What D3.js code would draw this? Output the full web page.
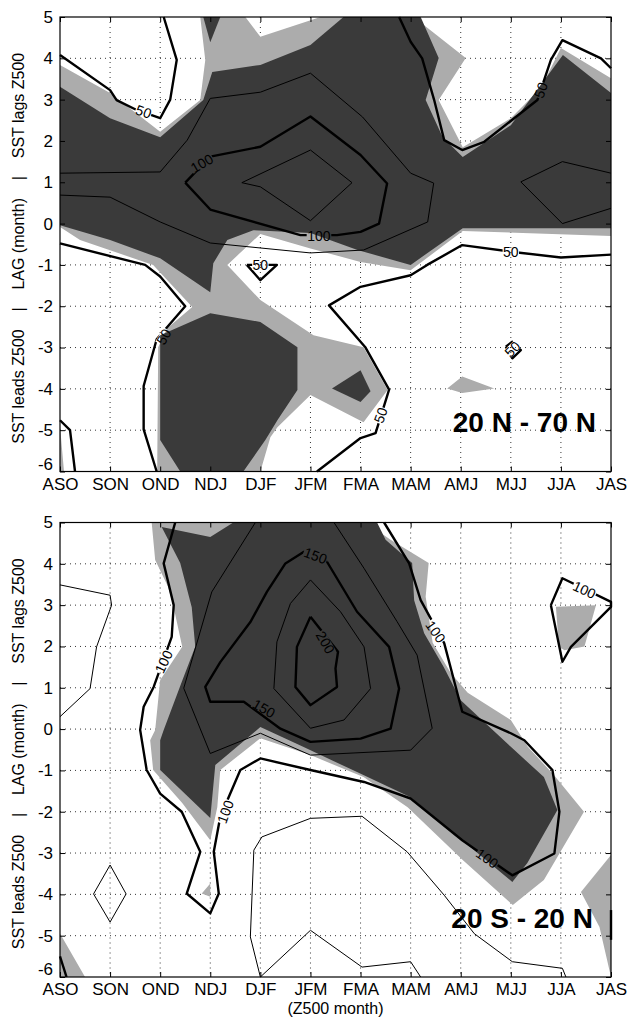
<!DOCTYPE html>
<html>
<head>
<meta charset="utf-8">
<script src="https://cdn.jsdelivr.net/npm/d3@7"></script>
<style>
  body { margin: 0; background: #fff; }
  svg { display: block; font-family: "Liberation Sans", Arial, sans-serif; }
</style>
</head>
<body>
<svg id="chart" width="631" height="1017"></svg>
<script>
// categories / ticks
const months = ["ASO", "SON", "OND", "NDJ", "DJF", "JFM", "FMA", "MAM", "AMJ", "MJJ", "JJA", "JAS"];
const lagTicks = [-6, -5, -4, -3, -2, -1, 0, 1, 2, 3, 4, 5];

// ---- 20N-70N : regions are [monthIndex, lag] vertices ----
const nhLight = [
  [[0,5],[11,5],[11,-0.3],[8.04,-0.18],[7,-1.13],[6,-0.93],[5,-0.6],[4,-0.25],[3.34,-1.0],[4,-1.85],
   [5.06,-2.7],[6.06,-2.99],[6.54,-4.03],[6.06,-4.81],[5,-4.15],[4.34,-4.93],[4.2,-5.17],[4,-6],
   [1.94,-6],[1.96,-2.99],[2.14,-2.53],[2.64,-2.02],[1.86,-1.0],[0.4,-0.4],[0,-0.08]],
  [[7.73,-3.99],[8.03,-3.7],[8.67,-3.99],[8.03,-4.1]],
  [[0,-4.9],[0.08,-6],[0,-6]]
];
const nhWhite = [
  [[0,5],[0,3.84],[1,3.16],[2,2.22],[2.8,2.99],[2.9,3.96],[2.8,5]],
  [[3.7,5],[4,4.52],[5.2,5]],
  [[7.06,5],[8.1,4.01],[7.56,2.99],[8.04,1.85],[9,2.55],[9.6,3.28],[10,4.25],[11,3.52],[11,5]]
];
const nhDark = [
  [[0,3.31],[1,2.55],[2,2.09],[2.86,2.99],[3.04,3.67],[4,3.84],[5,4.32],[5.66,5],[7.2,5],[7.56,4.01],
   [7.3,2.99],[7.64,2.09],[8.04,1.61],[9,2.38],[10.04,4.08],[11,3.16],[11,-0.11],[8.04,-0.11],[7,-1.0],
   [5.94,-0.64],[5,-0.23],[3.86,-0.16],[3.34,-0.4],[3.06,-0.96],[3,-1.66],[2,-0.84],[1,-0.4],[0,-0.04]],
  [[2.86,5],[3,4.39],[3.2,5]],
  [[2,-2.7],[3,-2.17],[4,-2.38],[4.74,-2.99],[4.74,-4.03],[4.34,-4.76],[4.1,-5.24],[3.66,-6],[2.4,-6],[2,-5.24]],
  [[5.43,-3.99],[6,-3.55],[6.2,-4.06],[6,-4.32]]
];
const nhThick = [
  [[0,4.08],[1,3.23],[1.13,2.99],[1.53,2.75],[2,2.55],[2.2,3.0],[2.33,3.96],[2.07,5]],
  [[6.77,5],[7,4.4],[7.23,4.0],[7.47,2.99],[7.67,2.02],[8.03,1.78],[8.47,1.98],[9.53,2.99],[9.8,3.96],[10.03,4.44],[10.8,4.0],[11,3.76]],
  [[0,-0.48],[1.7,-1.0],[2,-1.28],[2.5,-2.0],[1.93,-2.8],[1.67,-3.93],[1.67,-4.98],[1.93,-6]],
  [[3.73,-1.0],[4.33,-1.0],[4.0,-1.37],[3.73,-1.0]],
  [[5.13,-6],[6,-5.19],[6.3,-5.07],[6.57,-4.02],[6.1,-3.0],[5.37,-1.98],[6,-1.53],[7,-1.25],[7.33,-1.0],[8.03,-0.52],[9,-0.68],[10,-0.82],[11,-0.75]],
  [[8.9,-2.98],[9.03,-2.86],[9.2,-3.06],[9.03,-3.26],[8.9,-2.98]],
  [[0,-4.76],[0.2,-5.0],[0.3,-6]],
  [[2.5,0.99],[3,1.62],[4,1.86],[5,2.59],[6,1.66],[6.53,0.97],[6.37,0.0],[6,-0.2],[5.53,-0.28],[4.8,-0.28],[3,0.34],[2.5,0.99]]
];
const nhThin = [
  [[0,1.22],[2,1.25],[2.54,2.02],[3,3.03],[4,3.18],[5,3.64],[6.04,2.58],[7,1.22],[7.46,0.98],[7.34,0.04],[6.06,-0.64],[5,-0.71],[3,-0.47],[2,0.04],[1,0.64],[0,0.69]],
  [[3.63,0.99],[5,1.78],[5.83,0.99],[5,0.07],[4,0.89],[3.63,0.99]],
  [[11,1.22],[10.03,1.5],[9.2,1.01],[10.03,0.0],[11,0.37]]
];
const nhLabels = [
  {t: "50", x: 1.67, y: 2.71, a: 20}, {t: "50", x: 9.6, y: 3.23, a: -70},
  {t: "100", x: 2.83, y: 1.46, a: -30}, {t: "100", x: 5.17, y: -0.3, a: 0},
  {t: "50", x: 2.07, y: -2.74, a: -60}, {t: "50", x: 4.0, y: -1.0, a: 0},
  {t: "50", x: 9.0, y: -0.68, a: 0}, {t: "50", x: 6.4, y: -4.64, a: -70},
  {t: "50", x: 9.03, y: -3.04, a: -45}
];

// ---- 20S-20N ----
const trLight = [
  [[1.83,5],[6.1,5],[6.6,4.58],[7.36,4.02],[7.3,3.2],[7.44,2.09],[7.8,1.36],[8.14,0.88],[9,0.22],[9.34,-0.43],
   [9.86,-1.11],[10.46,-2.0],[9.66,-3.65],[9.04,-4.26],[8.04,-3.17],[6.94,-1.89],[6.06,-1.16],[5,-0.63],
   [4,-0.22],[3.2,-0.99],[3.14,-1.89],[3,-2.69],[2.44,-1.79],[1.86,-0.99],[1.8,-0.27],[1.9,-0.02],[2,1.19],
   [2.44,1.99],[2.26,3.0],[2.16,3.44],[1.9,4.09]],
  [[2.83,-3.98],[3,-3.74],[3,-4.06]],
  [[9.9,2.96],[10.7,3.0],[10.47,2.0],[10.07,1.91],[9.96,2.0]],
  [[11,-3.05],[10.4,-3.94],[10.77,-4.79],[11,-6]],
  [[0,-4.95],[0.5,-6],[0,-6]]
];
const trWhite = [];
const trDark = [
  [[2.03,4.89],[3,4.65],[3.46,5],[6.33,5],[6.5,4.58],[7.03,4.02],[7.07,3.12],[7.27,2.32],[7.66,1.5],[8,0.7],
   [9,-0.43],[9.66,-1.16],[9.93,-1.96],[9.33,-3.24],[9.03,-3.7],[8.03,-2.69],[7,-1.65],[5.93,-1.04],[4.8,-0.4],
   [4,0.05],[3.1,-0.87],[3,-2.15],[2,-0.99],[2,-0.27],[2.07,-0.02],[2.43,1.14],[2.7,1.99],[2.63,2.95],[2.4,4.02]]
];
const trThick = [
  [[2.3,5],[2.07,4.01],[2.27,3.0],[2.23,2.23],[1.87,1.02],[1.67,0.54],[1.6,-0.02],[1.73,-0.99],[2,-1.56],
   [2.43,-2.0],[2.8,-2.97],[2.53,-3.98],[3,-4.46],[3.17,-3.98],[3.07,-2.97],[3.2,-2.12],[3.6,-0.99],[4,-0.71],
   [5,-0.99],[6.07,-1.28],[7,-1.68],[8.03,-2.69],[9.03,-3.54],[9.87,-3.01],[9.97,-2.0],[9.83,-0.99],
   [9.27,-0.27],[9,-0.1],[8.03,0.42],[7.67,2.08],[7.2,3.12],[6.97,4.01],[6.47,5]],
  [[5.33,4.05],[5.93,2.84],[6.57,1.99],[6.77,0.98],[6.6,0.01],[6,-0.23],[5,-0.31],[4.4,0.01],[3.67,0.66],
   [3,0.66],[2.9,1.02],[3.2,1.62],[3.8,2.59],[4.13,3.32],[4.5,4.01],[4.87,4.29],[5.33,4.05]],
  [[5,2.72],[5.55,1.87],[5.5,1.47],[5.53,1.02],[5,0.58],[4.7,1.02],[4.73,1.99],[5,2.72]],
  [[9.8,3.0],[10.03,3.65],[11,3.08],[11,2.96],[10.2,1.99],[10.03,1.63],[9.8,3.0]],
  [[0,-5.5],[0.13,-6]],
  [[11,-4.38],[11,-5.1]]
];
const trThin = [
  [[3.9,5],[3.03,3.32],[2.47,0.99],[3,-0.59],[4,-0.1],[5,-0.63],[7,-0.51],[7.43,0.02],[7.13,1.79],[6.73,2.6],[6.07,3.89],[5.47,5]],
  [[5,3.61],[5.6,2.84],[6.07,1.99],[6.2,0.98],[5.67,0.22],[5,0.02],[4.27,0.98],[4.33,2.11],[4.6,3.04],[5,3.61]],
  [[0,3.49],[1,3.24],[1.03,3.0],[0.73,1.99],[0.6,0.98],[0,0.3]],
  [[1,-3.29],[1.32,-3.99],[1,-4.67],[0.67,-3.99],[1,-3.29]],
  [[4,-6],[3.8,-5.03],[3.87,-2.93],[4.03,-2.61],[5,-2.16],[6.03,-2.11],[6.93,-2.97],[7.67,-4.02],[8.27,-4.95],[9.03,-5.63],[10.03,-5.79],[10.1,-6]],
  [[4,-6],[5,-4.87],[6.03,-5.76],[7,-5.63],[7.2,-6]]
];
const trLabels = [
  {t: "150", x: 5.1, y: 4.2, a: 20}, {t: "150", x: 4.07, y: 0.5, a: 30},
  {t: "200", x: 5.3, y: 2.1, a: 60}, {t: "100", x: 2.07, y: 1.63, a: -65},
  {t: "100", x: 3.3, y: -2.0, a: -70}, {t: "100", x: 8.53, y: -3.13, a: 35},
  {t: "100", x: 7.5, y: 2.36, a: 55}, {t: "100", x: 10.47, y: 3.37, a: 25}
];

const panels = [
  {top: 17, title: "20 N - 70 N", tx: 10.7, ty: -5.04, light: nhLight, holes: nhWhite, dark: nhDark,
   thick: nhThick, thin: nhThin, labels: nhLabels, xTitle: null},
  {top: 522.5, title: "20 S - 20 N", tx: 10.64, ty: -4.82, light: trLight, holes: trWhite, dark: trDark,
   thick: trThick, thin: trThin, labels: trLabels, xTitle: "(Z500 month)"}
];

const svg = d3.select("#chart");
const left = 60, right = 611, plotH = 454.5;
const lightGray = "#acacac", darkGray = "#3a3a3a";
const labelSize = 14;

panels.forEach((p, pi) => {
  const x = d3.scaleLinear().domain([0, months.length - 1]).range([left, right]);
  const y = d3.scaleLinear().domain([-6, 5]).range([p.top + plotH, p.top]);
  const line = d3.line().x(d => x(d[0])).y(d => y(d[1]));
  const labelPos = d => `translate(${x(d.x)},${y(d.y)}) rotate(${d.a})`;
  const g = svg.append("g");

  const clipId = "clip" + pi;
  svg.append("clipPath").attr("id", clipId)
    .append("rect").attr("x", left).attr("y", p.top).attr("width", right - left).attr("height", plotH);

  // mask that breaks contour lines under their labels (like clabel)
  const maskId = "gap" + pi;
  const mask = svg.append("mask").attr("id", maskId).attr("maskUnits", "userSpaceOnUse")
    .attr("x", 0).attr("y", 0).attr("width", 631).attr("height", 1017);
  mask.append("rect").attr("width", 631).attr("height", 1017).attr("fill", "#fff");
  mask.selectAll("rect.lab").data(p.labels).join("rect").attr("class", "lab")
    .attr("transform", labelPos)
    .attr("x", d => -d.t.length * 4.1).attr("y", -5)
    .attr("width", d => d.t.length * 8.2).attr("height", 10).attr("fill", "#000");

  // dotted grid (under the shading)
  const grid = g.append("g").attr("stroke", "#000").attr("stroke-width", 0.8).attr("stroke-dasharray", "1,4");
  grid.selectAll("line.v").data(d3.range(1, months.length - 1)).join("line").attr("class", "v")
    .attr("x1", d => x(d)).attr("x2", d => x(d)).attr("y1", p.top).attr("y2", p.top + plotH);
  grid.selectAll("line.h").data(lagTicks.slice(1, -1)).join("line").attr("class", "h")
    .attr("x1", left).attr("x2", right).attr("y1", d => y(d)).attr("y2", d => y(d));

  const fills = g.append("g").attr("clip-path", `url(#${clipId})`);
  // light shading with white holes
  fills.append("path")
    .attr("d", p.light.concat(p.holes).map(poly => line(poly) + "Z").join(""))
    .attr("fill", lightGray).attr("fill-rule", "evenodd");
  fills.selectAll("path.dark").data(p.dark).join("path").attr("class", "dark")
    .attr("d", d => line(d) + "Z").attr("fill", darkGray);

  // contour lines
  const lines = g.append("g").attr("mask", `url(#${maskId})`)
    .attr("fill", "none").attr("stroke", "#000").attr("stroke-linejoin", "round");
  lines.append("g").selectAll("path").data(p.thin).join("path")
    .attr("d", line).attr("stroke-width", 1);
  lines.append("g").selectAll("path").data(p.thick).join("path")
    .attr("d", line).attr("stroke-width", 2.4);

  // contour labels
  g.append("g").selectAll("text").data(p.labels).join("text")
    .attr("transform", labelPos)
    .attr("text-anchor", "middle").attr("dy", "0.36em")
    .attr("font-size", labelSize).attr("fill", "#000")
    .text(d => d.t);

  // frame
  g.append("rect").attr("x", left).attr("y", p.top).attr("width", right - left).attr("height", plotH)
    .attr("fill", "none").attr("stroke", "#000").attr("stroke-width", 1.2);

  // axes, ticks inside like the original
  const xb = g.append("g").attr("transform", `translate(0,${p.top + plotH})`)
    .call(d3.axisBottom(x).tickValues(d3.range(months.length)).tickFormat(i => months[i])
      .tickSize(-5).tickPadding(6));
  const xt = g.append("g").attr("transform", `translate(0,${p.top})`)
    .call(d3.axisTop(x).tickValues(d3.range(months.length)).tickFormat("").tickSize(-5));
  const yl = g.append("g").attr("transform", `translate(${left},0)`)
    .call(d3.axisLeft(y).tickValues(lagTicks).tickFormat(d => String(d)).tickSize(-5).tickPadding(7));
  const yr = g.append("g").attr("transform", `translate(${right},0)`)
    .call(d3.axisRight(y).tickValues(lagTicks).tickFormat("").tickSize(-5));
  [xb, xt, yl, yr].forEach(a => {
    a.select(".domain").remove();
    a.selectAll("text").attr("font-size", 17).attr("fill", "#000")
      .attr("font-family", "'Liberation Sans', Arial, sans-serif");
  });
  // lowest lag label sits just above the month labels
  yl.selectAll(".tick text").filter(d => d === lagTicks[0]).attr("dy", "-0.14em");

  // lag axis title
  g.append("text")
    .attr("transform", `translate(24,${p.top + plotH / 2 + 4}) rotate(-90)`)
    .attr("text-anchor", "middle").attr("font-size", 16)
    .style("white-space", "pre")
    .text("SST leads Z500    |    LAG (month)    |    SST lags Z500");

  // region title
  g.append("text").attr("x", x(p.tx)).attr("y", y(p.ty))
    .attr("text-anchor", "end").attr("font-size", 28).attr("font-weight", "bold")
    .text(p.title);

  if (p.xTitle) {
    g.append("text").attr("x", (left + right) / 2).attr("y", p.top + plotH + 37)
      .attr("text-anchor", "middle").attr("font-size", 16).text(p.xTitle);
  }
});
</script>
</body>
</html>
